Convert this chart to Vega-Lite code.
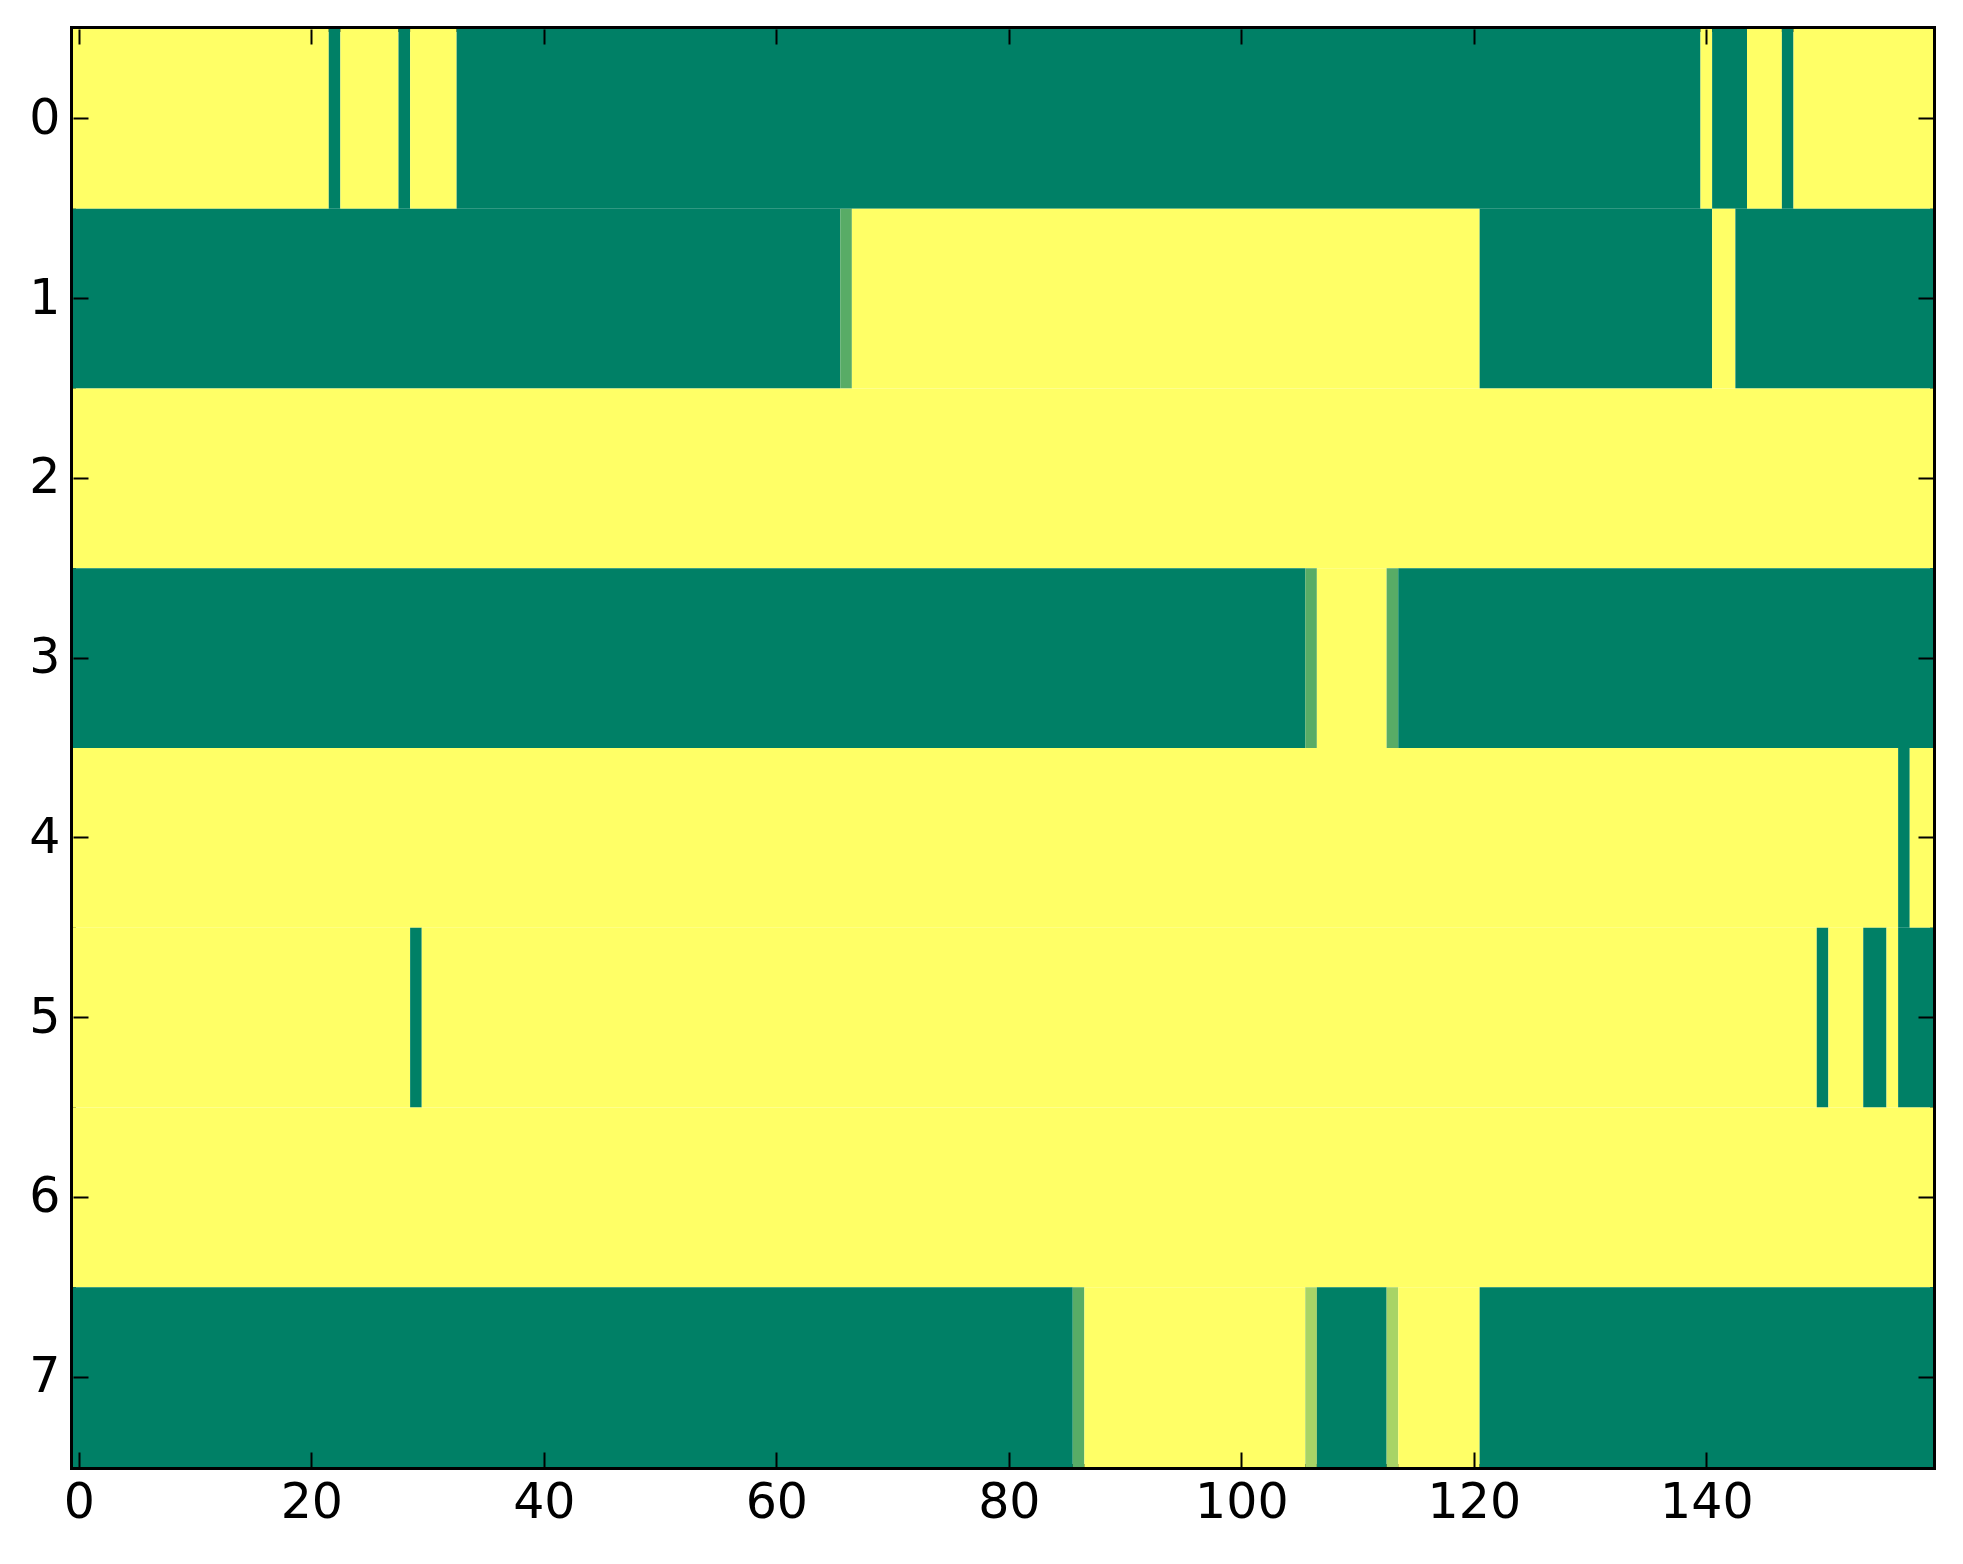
{
  "$schema": "https://vega.github.io/schema/vega-lite/v6.json",
  "width": 1860,
  "height": 1438,
  "autosize": "none",
  "padding": {"left": 73, "top": 29, "right": 30, "bottom": 97},
  "background": "white",
  "config": {
    "view": {"stroke": "black", "strokeWidth": 6},
    "axis": {
      "labelFont": "DejaVu Sans",
      "labelFontSize": 49,
      "labelColor": "black",
      "domain": false,
      "ticks": true,
      "tickColor": "black",
      "tickWidth": 2,
      "tickSize": 15,
      "offset": -15,
      "grid": false,
      "title": null
    }
  },
  "data": {
    "values": [
      {"row": 0, "x0": -0.5, "x1": 21.5, "v": 1},
      {"row": 0, "x0": 21.5, "x1": 22.5, "v": 0},
      {"row": 0, "x0": 22.5, "x1": 27.5, "v": 1},
      {"row": 0, "x0": 27.5, "x1": 28.5, "v": 0},
      {"row": 0, "x0": 28.5, "x1": 32.5, "v": 1},
      {"row": 0, "x0": 32.5, "x1": 139.5, "v": 0},
      {"row": 0, "x0": 139.5, "x1": 140.5, "v": 1},
      {"row": 0, "x0": 140.5, "x1": 143.5, "v": 0},
      {"row": 0, "x0": 143.5, "x1": 146.5, "v": 1},
      {"row": 0, "x0": 146.5, "x1": 147.5, "v": 0},
      {"row": 0, "x0": 147.5, "x1": 159.5, "v": 1},
      {"row": 1, "x0": -0.5, "x1": 65.5, "v": 0},
      {"row": 1, "x0": 65.5, "x1": 66.5, "v": 0.345},
      {"row": 1, "x0": 66.5, "x1": 120.5, "v": 1},
      {"row": 1, "x0": 120.5, "x1": 140.5, "v": 0},
      {"row": 1, "x0": 140.5, "x1": 142.5, "v": 1},
      {"row": 1, "x0": 142.5, "x1": 159.5, "v": 0},
      {"row": 2, "x0": -0.5, "x1": 159.5, "v": 1},
      {"row": 3, "x0": -0.5, "x1": 105.5, "v": 0},
      {"row": 3, "x0": 105.5, "x1": 106.5, "v": 0.345},
      {"row": 3, "x0": 106.5, "x1": 112.5, "v": 1},
      {"row": 3, "x0": 112.5, "x1": 113.5, "v": 0.345},
      {"row": 3, "x0": 113.5, "x1": 159.5, "v": 0},
      {"row": 4, "x0": -0.5, "x1": 156.5, "v": 1},
      {"row": 4, "x0": 156.5, "x1": 157.5, "v": 0},
      {"row": 4, "x0": 157.5, "x1": 159.5, "v": 1},
      {"row": 5, "x0": -0.5, "x1": 28.5, "v": 1},
      {"row": 5, "x0": 28.5, "x1": 29.5, "v": 0},
      {"row": 5, "x0": 29.5, "x1": 149.5, "v": 1},
      {"row": 5, "x0": 149.5, "x1": 150.5, "v": 0},
      {"row": 5, "x0": 150.5, "x1": 153.5, "v": 1},
      {"row": 5, "x0": 153.5, "x1": 155.5, "v": 0},
      {"row": 5, "x0": 155.5, "x1": 156.5, "v": 1},
      {"row": 5, "x0": 156.5, "x1": 159.5, "v": 0},
      {"row": 6, "x0": -0.5, "x1": 159.5, "v": 1},
      {"row": 7, "x0": -0.5, "x1": 85.5, "v": 0},
      {"row": 7, "x0": 85.5, "x1": 86.5, "v": 0.345},
      {"row": 7, "x0": 86.5, "x1": 105.5, "v": 1},
      {"row": 7, "x0": 105.5, "x1": 106.5, "v": 0.66},
      {"row": 7, "x0": 106.5, "x1": 112.5, "v": 0},
      {"row": 7, "x0": 112.5, "x1": 113.5, "v": 0.66},
      {"row": 7, "x0": 113.5, "x1": 120.5, "v": 1},
      {"row": 7, "x0": 120.5, "x1": 159.5, "v": 0}
    ]
  },
  "layer": [
    {
      "mark": {"type": "rect", "strokeWidth": 0},
      "encoding": {
        "x": {
          "field": "x0", "type": "quantitative",
          "scale": {"domain": [-0.5, 159.5], "nice": false, "zero": false},
          "axis": {"orient": "bottom", "values": [0, 20, 40, 60, 80, 100, 120, 140], "labelPadding": 11, "labelFlush": false, "zindex": 2}
        },
        "x2": {"field": "x1"},
        "y": {
          "field": "row", "type": "ordinal",
          "scale": {"paddingInner": 0, "paddingOuter": 0},
          "axis": {"orient": "left", "labelPadding": 13, "labelAngle": 0, "zindex": 2}
        },
        "color": {
          "field": "v", "type": "quantitative",
          "scale": {"domain": [0, 1], "range": ["#008066", "#ffff66"], "interpolate": "rgb"},
          "legend": null
        }
      }
    },
    {
      "mark": {"type": "rect", "opacity": 0},
      "encoding": {
        "x": {
          "field": "x0", "type": "quantitative",
          "scale": {"domain": [-0.5, 159.5], "nice": false, "zero": false},
          "axis": {"orient": "top", "values": [0, 20, 40, 60, 80, 100, 120, 140], "labels": false, "zindex": 2}
        },
        "x2": {"field": "x1"},
        "y": {
          "field": "row", "type": "ordinal",
          "scale": {"paddingInner": 0, "paddingOuter": 0},
          "axis": {"orient": "right", "labels": false, "zindex": 2}
        }
      }
    }
  ],
  "resolve": {"axis": {"x": "independent", "y": "independent"}}
}
